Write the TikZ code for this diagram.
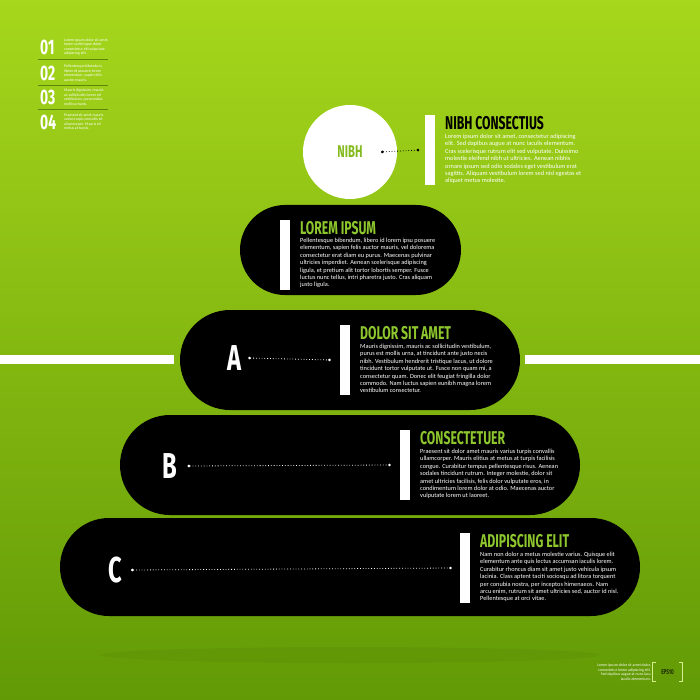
\documentclass[tikz,border=0pt]{standalone}
\usepackage{fontspec}
\setmainfont{Carlito}
\newfontfamily\headfont[FakeStretch=0.66]{Fira Sans}
\usetikzlibrary{shapes.misc,arrows.meta}

\definecolor{bgtop}{RGB}{166,215,28}
\definecolor{bgbottom}{RGB}{98,154,6}
\definecolor{lime}{RGB}{141,198,45}
\definecolor{nibhgreen}{RGB}{132,186,30}
\definecolor{rulegreen}{RGB}{90,136,12}
\definecolor{epsdark}{RGB}{28,42,0}
\definecolor{bracketcol}{RGB}{214,238,140}

\begin{document}
\begin{tikzpicture}[x=1pt, y=-1pt,
        pill/.style={rounded rectangle, fill=black, inner sep=0pt},
        bar/.style={rectangle, fill=white, minimum width=10pt, minimum height=70pt, inner sep=0pt},
        heading/.style={font=\headfont\bfseries\fontsize{18.5}{18.5}\selectfont, inner sep=0pt, anchor=north west},
        body/.style={font=\fontsize{6.3}{7.4}\selectfont, align=left, inner sep=0pt, anchor=north west, text=white},
        letter/.style={font=\headfont\bfseries\fontsize{36}{36}\selectfont, text=white, inner sep=0pt},
        link/.style={white, dotted, line width=0.8pt, {Circle[length=2.6pt]}-{Circle[length=2.6pt]}},
        numeral/.style={font=\headfont\bfseries\fontsize{21}{21}\selectfont, text=white, inner sep=0pt, anchor=west},
        smalltext/.style={font=\fontsize{3.9}{4.6}\selectfont, text=white, align=left, inner sep=0pt, anchor=west}
    ]

    % Background
    \useasboundingbox (0,0) rectangle (700,700);
    \shade[top color=bgtop, bottom color=bgbottom] (0,0) rectangle (700,700);
    \fill[white] (0,355) rectangle (174,364);
    \fill[white] (525,355) rectangle (700,364);
    \fill[black, opacity=0.04] (350,655) ellipse (250 and 8);

    % Numbered list
    \node[numeral] (n1) at (40,47) {01};
    \node[numeral] (n2) at (40,73) {02};
    \node[numeral] (n3) at (40,97) {03};
    \node[numeral] (n4) at (40,122) {04};
    \node[smalltext] (s1) at (64,47) {Lorem ipsum dolor sit amet,\\lorem scelerisque dolor\\consectetur elit vulputate\\adipiscing elit.};
    \node[smalltext] (s2) at (64,73) {Pellentesque bibendum,\\libero id posuere lorem\\elementum, sapien felis\\auctor mauris.};
    \node[smalltext] (s3) at (64,97) {Mauris dignissim, mauris\\ac sollicitudin lorem vel\\vestibulum, purus estius\\mollis urnanis.};
    \node[smalltext] (s4) at (64,122) {Praesent sit amet mauris\\varius turpis convallis sit\\ullamcorper. Mauris eli\\metus at turpis.};
    \draw[rulegreen, line width=0.7pt] (38,59) -- (108,59);
    \draw[rulegreen, line width=0.7pt] (38,85) -- (108,85);
    \draw[rulegreen, line width=0.7pt] (38,109) -- (108,109);

    % Circle
    \node[circle, fill=white, minimum size=94pt, inner sep=0pt, text=nibhgreen,
          font=\headfont\bfseries\fontsize{17}{17}\selectfont] (nibh) at (350,152) {NIBH};
    \node[bar] (bar0) at (429.5,150) {};
    \draw[link, black] ([xshift=31pt]nibh.center) -- ([xshift=-5pt]bar0.west);
    \node[heading] (t0) at (445,116) {NIBH CONSECTIUS};
    \node[body] (b0) at (445,134) {Lorem ipsum dolor sit amet, consectetur adipiscing\\elit. Sed dapibus augue at nunc iaculis elementum.\\Cras scelerisque rutrum elit sed vulputate. Duissimo\\molestie eleifend nibh ut ultricies. Aenean nibhis\\ornare ipsum sed odio sodales eget vestibulum erat\\sagittis. Aliquam vestibulum lorem sed nisl egestas et\\aliquet metus molestie.};

    % Level 1
    \node[pill, minimum width=221pt, minimum height=90pt] (pill1) at (350.5,250) {};
    \node[bar] (bar1) at (285,255) {};
    \node[heading, text=lime] (t1) at (300,221) {LOREM IPSUM};
    \node[body] (b1) at (300,238) {Pellentesque bibendum, libero id lorem ipsu posuere\\elementum, sapien felis auctor mauris, vel dolorema\\consectetur erat diam eu purus. Maecenas pulvinar\\ultricies imperdiet. Aenean scelerisque adipiscing\\ligula, et pretium alit tortor lobortis semper. Fusce\\luctus nunc tellus, intri pharetra justo. Cras aliquam\\justo ligula.};

    % Level 2 (A)
    \node[pill, minimum width=340pt, minimum height=100pt] (pill2) at (350,360) {};
    \node[letter] (letA) at (235,358) {A};
    \node[bar] (bar2) at (345,360) {};
    \draw[link] ([xshift=6pt]letA.east) -- ([xshift=-9pt]bar2.west);
    \node[heading, text=lime] (t2) at (360,326) {DOLOR SIT AMET};
    \node[body] (b2) at (360,344) {Mauris dignissim, mauris ac sollicitudin vestibulum,\\purus est mollis urna, at tincidunt ante justo necis\\nibh. Vestibulum hendrerit tristique lacus, ut dolore\\tincidunt tortor vulputate ut. Fusce non quam mi, a\\consectetur quam. Donec elit feugiat fringilla dolor\\commodo. Nam luctus sapien eunibh magna lorem\\vestibulum consectetur.};

    % Level 3 (B)
    \node[pill, minimum width=460pt, minimum height=100pt] (pill3) at (350,465) {};
    \node[letter] (letB) at (170,466) {B};
    \node[bar] (bar3) at (405,465) {};
    \draw[link] ([xshift=10pt]letB.east) -- ([xshift=-9pt]bar3.west);
    \node[heading, text=lime] (t3) at (420,431) {CONSECTETUER};
    \node[body] (b3) at (420,449) {Praesent sit dolor amet mauris varius turpis convallis\\ullamcorper. Mauris elitius at metus at turpis facilisis\\congue. Curabitur tempus pellentesque risus. Aenean\\sodales tincidunt rutrum. Integer molestie, dolor sit\\amet ultricies facilisis, felis dolor vulputate eros, in\\condimentum lorem dolor at odio. Maecenas auctor\\vulputate lorem ut laoreet.};

    % Level 4 (C)
    \node[pill, minimum width=580pt, minimum height=98pt] (pill4) at (350,567) {};
    \node[letter] (letC) at (115,570) {C};
    \node[bar] (bar4) at (465,568) {};
    \draw[link] ([xshift=9pt]letC.east) -- ([xshift=-8pt]bar4.west);
    \node[heading, text=lime] (t4) at (480,534) {ADIPISCING ELIT};
    \node[body] (b4) at (480,552) {Nam non dolor a metus molestie varius. Quisque elit\\elementum ante quis lectus accumsan iaculis lorem.\\Curabitur rhoncus diam sit amet justo vehicula ipsum\\lacinia. Class aptent taciti sociosqu ad litora torquent\\per conubia nostra, per inceptos himenaeos. Nam\\arcu enim, rutrum sit amet ultricies sed, auctor id nisl.\\Pellentesque at orci vitae.};

    % Footer
    \node[smalltext, align=right, anchor=east] (credit) at (651,672) {Lorem ipsum dolor sit amet dolor,\\consectetur lorem adipiscing elit.\\Sed dapibus augue at nunc lacu\\iaculis elementum.};
    \node[font=\headfont\bfseries\fontsize{7}{7}\selectfont, text=epsdark, minimum width=29pt, minimum height=18pt, inner sep=0pt] (eps) at (667.5,672) {EPS10};
    \draw[bracketcol, line width=1.2pt] ([xshift=3pt]eps.north west) -- (eps.north west) -- (eps.south west) -- ([xshift=3pt]eps.south west);
    \draw[bracketcol, line width=1.2pt] ([xshift=-3pt]eps.north east) -- (eps.north east) -- (eps.south east) -- ([xshift=-3pt]eps.south east);
\end{tikzpicture}
\end{document}
